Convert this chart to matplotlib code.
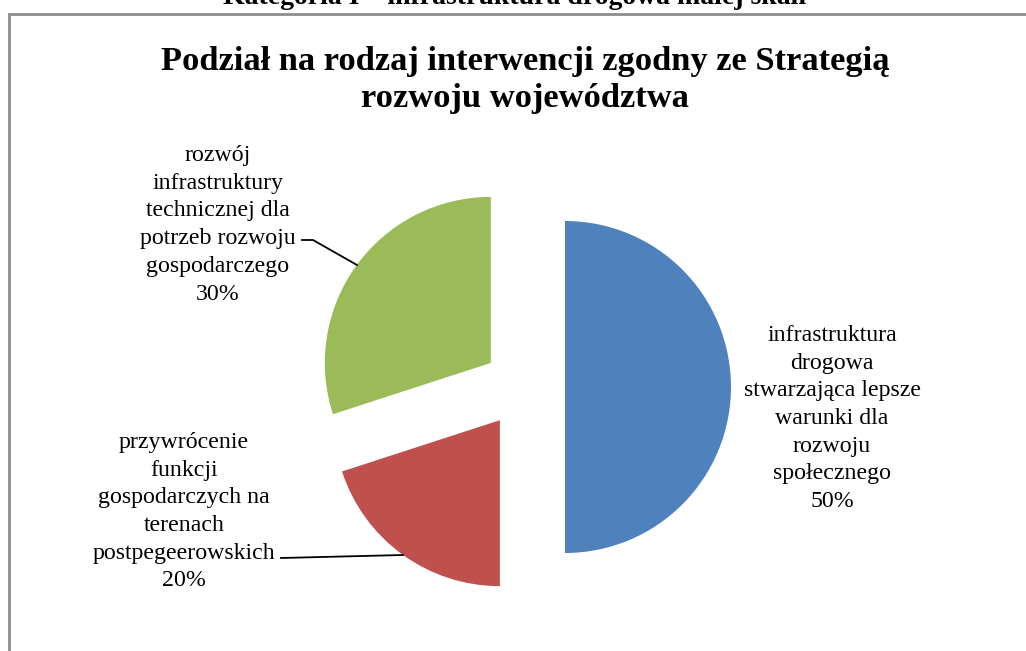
import matplotlib
matplotlib.use("Agg")
import matplotlib.pyplot as plt

# ---- data ----
categories = [
    "infrastruktura\ndrogowa\nstwarzająca lepsze\nwarunki dla\nrozwoju\nspołecznego",
    "przywrócenie\nfunkcji\ngospodarczych na\nterenach\npostpegeerowskich",
    "rozwój\ninfrastruktury\ntechnicznej dla\npotrzeb rozwoju\ngospodarczego",
]
values = [50, 20, 30]
colors = ["#4F81BD", "#C0504D", "#9BBB59"]
title = "Podział na rodzaj interwencji zgodny ze Strategią\nrozwoju województwa"
header = "Kategoria I – infrastruktura drogowa małej skali"

W, H = 1026, 651
fig = plt.figure(figsize=(W / 100, H / 100), dpi=100)
ax = fig.add_axes([0, 0, 1, 1])

def Y(y):
    return H - y

cx, cy, r, expl = 524, 387, 166, 41
ax.pie(values, colors=colors, startangle=90, counterclock=False,
       center=(cx, Y(cy)), radius=r, explode=[expl] * len(values),
       wedgeprops=dict(linewidth=0))
ax.set_xlim(0, W)
ax.set_ylim(0, H)
ax.set_aspect("auto")
ax.axis("off")

serif = "Liberation Serif"
fs = 17.2
step = 27.7

total = sum(values)
label_pos = [(832, 341), (184, 448), (218, 161)]
for cat, val, (lx, ly) in zip(categories, values, label_pos):
    lines = cat.split("\n") + [f"{round(100 * val / total)}%"]
    for i, ln in enumerate(lines):
        ax.text(lx, Y(ly + i * step), ln, ha="center", va="baseline",
                fontsize=fs, family=serif, color="black")

# leader lines
ax.plot([302, 313, 357], [Y(240), Y(240), Y(265)], color="black", lw=1.3)
ax.plot([281, 403], [Y(558), Y(555)], color="black", lw=1.3)

# title
for i, ln in enumerate(title.split("\n")):
    ax.text(525, Y(70 + i * 37), ln, ha="center", va="baseline",
            fontsize=24.8, family=serif, weight="bold", color="black")

# header (cut off at top)
ax.text(515, Y(4), header, ha="center", va="baseline", fontsize=20,
        family=serif, weight="bold", color="black")

# frame
ax.plot([8.5, 8.5, W + 5], [-5, Y(13.5), Y(13.5)], color="#8C8C8C", lw=2,
        solid_joinstyle="miter", clip_on=False)

fig.savefig("out.png", dpi=100)
